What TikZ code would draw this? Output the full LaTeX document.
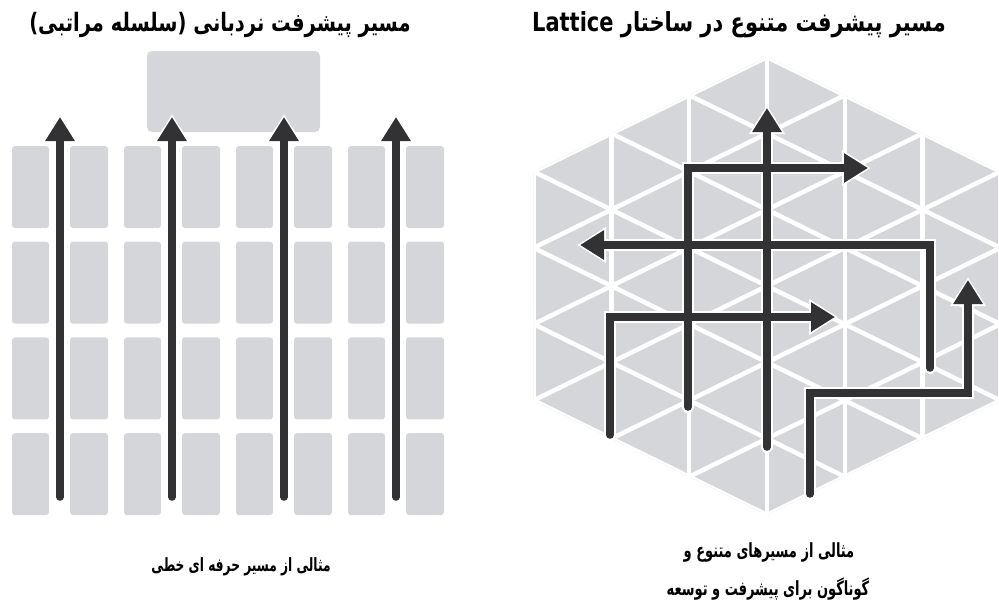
\documentclass[tikz,border=0pt]{standalone}
\usepackage{fontspec}
\usetikzlibrary{arrows.meta}
\TeXXeTstate=1
\newfontfamily\fa[Script=Arabic]{DejaVu Sans}
\definecolor{boxgray}{RGB}{213,214,217}
\definecolor{arrowdk}{RGB}{50,50,52}
\tikzset{
  ttl/.style={font=\fa\bfseries\fontsize{19.5}{22}\selectfont, inner sep=0pt, text=black},
  capt/.style={font=\fa\bfseries\fontsize{13}{16}\selectfont, inner sep=0pt, text=black},
  cell/.style={fill=boxgray, rounded corners=3pt},
  halo/.style={draw=white, line width=12pt, line cap=round, line join=miter, shorten >=-3pt,
    -{Triangle[width=34pt,length=29pt]}},
  arr/.style={draw=arrowdk, line width=7.5pt, line cap=round, line join=miter,
    -{Triangle[width=28pt,length=24pt]}},
  grid/.style={draw=white, line width=4.5pt}
}
\newcommand{\leftarrows}[1]{%
  \foreach \c in {0,...,3}{\draw[#1] (la\c s) -- (la\c e);}%
}
\newcommand{\rightarrows}[1]{%
  \draw[#1] (raS) -- (raE);
  \draw[#1] (rbS) -- (rb1) -- (rbE);
  \draw[#1] (rcS) -- (rc1) -- (rcE);
  \draw[#1] (rdS) -- (rd1) -- (rdE);
  \draw[#1] (reS) -- (re1) -- (re2) -- (reE);
}
\begin{document}
\begin{tikzpicture}[x=1pt,y=-1pt]
\useasboundingbox (0,0) rectangle (999,608);

% ---------- left panel ----------
\fill[boxgray, rounded corners=5pt] (147,51) rectangle (320,132);
\foreach \c in {0,...,3}{
  \foreach \r in {0,...,3}{
    \pgfmathsetmacro\xl{12+112*\c}
    \pgfmathsetmacro\yt{146+95.7*\r}
    \fill[cell] (\xl,\yt) rectangle ++(37,82);
    \fill[cell] (\xl+58,\yt) rectangle ++(38,82);
  }
  \pgfmathsetmacro\ax{60+112*\c}
  \coordinate (la\c s) at (\ax,497);
  \coordinate (la\c e) at (\ax,117);
}
\leftarrows{halo}
\leftarrows{arr}

% ---------- right panel : hexagonal triangle lattice ----------
\begin{scope}[shift={(767,286)}, x={(77.8pt,0pt)}, y={(0pt,-38.15pt)}]
  \fill[boxgray] (0,-6) -- (3,-3) -- (3,3) -- (0,6) -- (-3,3) -- (-3,-3) -- cycle;
  \begin{scope}
    \clip (0,-6) -- (3,-3) -- (3,3) -- (0,6) -- (-3,3) -- (-3,-3) -- cycle;
    \foreach \i in {-3,...,3}{\draw[grid] (\i,-7) -- (\i,7);}
    \foreach \k in {-14,-12,...,14}{
      \draw[grid] (-4,\k-4) -- (4,\k+4);
      \draw[grid] (-4,\k+4) -- (4,\k-4);
    }
  \end{scope}
\end{scope}

\coordinate (raS) at (767,447); \coordinate (raE) at (767,108);
\coordinate (rbS) at (688,407); \coordinate (rb1) at (688,168); \coordinate (rbE) at (868,168);
\coordinate (rcS) at (930,368); \coordinate (rc1) at (930,245); \coordinate (rcE) at (580,245);
\coordinate (rdS) at (610,435); \coordinate (rd1) at (610,317); \coordinate (rdE) at (835,317);
\coordinate (reS) at (810,494); \coordinate (re1) at (810,393); \coordinate (re2) at (968,393); \coordinate (reE) at (968,280);
\rightarrows{halo}
\rightarrows{arr}

% ---------- texts ----------
\node[ttl] (lt) at (220,25) {\scalebox{1}[1.3]{\beginR مسیر پیشرفت نردبانی (سلسله مراتبی)\endR}};
\node[ttl, font=\fa\bfseries\fontsize{21}{24}\selectfont] (rt) at (739,25) {\scalebox{1}[1.25]{\beginR مسیر پیشرفت متنوع در ساختار \beginL Lattice\endL\endR}};
\node[capt, font=\fa\bfseries\fontsize{12.2}{16}\selectfont] (lc) at (241,567) {\scalebox{1}[1.5]{\beginR مثالی از مسیر حرفه ای خطی\endR}};
\node[capt] (rc1) at (769,552) {\scalebox{1}[1.5]{\beginR مثالی از مسیرهای متنوع و\endR}};
\node[capt] (rc2) at (768,589) {\scalebox{1}[1.5]{\beginR گوناگون برای پیشرفت و توسعه\endR}};
\end{tikzpicture}
\end{document}
